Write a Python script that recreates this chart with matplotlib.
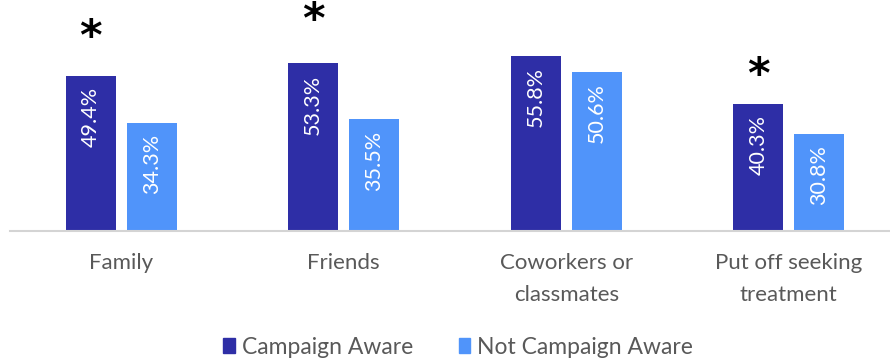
import matplotlib.pyplot as plt
import numpy as np
from matplotlib.patches import Patch

categories = ["Family", "Friends", "Coworkers or\nclassmates", "Put off seeking\ntreatment"]
aware = [49.4, 53.3, 55.8, 40.3]
not_aware = [34.3, 35.5, 50.6, 30.8]
significant = [True, True, False, True]
series_names = ["Campaign Aware", "Not Campaign Aware"]

DARK = "#2e2ea6"
LIGHT = "#5094fa"
TEXT = "#595959"

plt.rcParams["font.family"] = ["Lato", "DejaVu Sans"]

fig = plt.figure(figsize=(8.9, 3.62), dpi=100)
ax = fig.add_axes([10 / 890, 131 / 362, 880 / 890, 220 / 362])

x = np.arange(len(categories))
w = 0.225
off = 0.137
b1 = ax.bar(x - off, aware, w, color=DARK)
b2 = ax.bar(x + off, not_aware, w, color=LIGHT)

for bars in (b1, b2):
    for rect in bars:
        h = rect.get_height()
        ax.annotate(f"{h:.1f}%", (rect.get_x() + rect.get_width() / 2, h),
                    xytext=(0, -11), textcoords="offset pixels",
                    rotation=90, ha="center", va="top", color="white", fontsize=15.5)

# significance markers above the aware bars
star_gap = [38, 42, 0, 28]
for xi, v, sig, g in zip(x, aware, significant, star_gap):
    if sig:
        ax.annotate("*", (xi - off, v), xytext=(0, g), textcoords="offset pixels",
                    ha="center", va="center", fontsize=31, fontweight="bold",
                    family="DejaVu Sans", color="black")

ax.set_xlim(-0.5, 3.455)
ax.set_ylim(0, 70)
ax.set_yticks([])
ax.set_xticks(x)
ax.set_xticklabels(categories, fontsize=16, color=TEXT, linespacing=1.75)
ax.tick_params(axis="x", length=0, pad=16)
for s in ["top", "right", "left"]:
    ax.spines[s].set_visible(False)
ax.spines["bottom"].set_color("#d4d4d4")
ax.spines["bottom"].set_linewidth(1.5)

handles = [Patch(color=DARK, label=series_names[0]), Patch(color=LIGHT, label=series_names[1])]
fig.legend(handles=handles, loc="center", bbox_to_anchor=(458 / 890, 1 - 347 / 362), ncol=2,
           frameon=False, fontsize=16.5, labelcolor=TEXT, handlelength=0.5, handleheight=0.65,
           handletextpad=0.3, columnspacing=2.0)

fig.savefig("out.png", dpi=100)
